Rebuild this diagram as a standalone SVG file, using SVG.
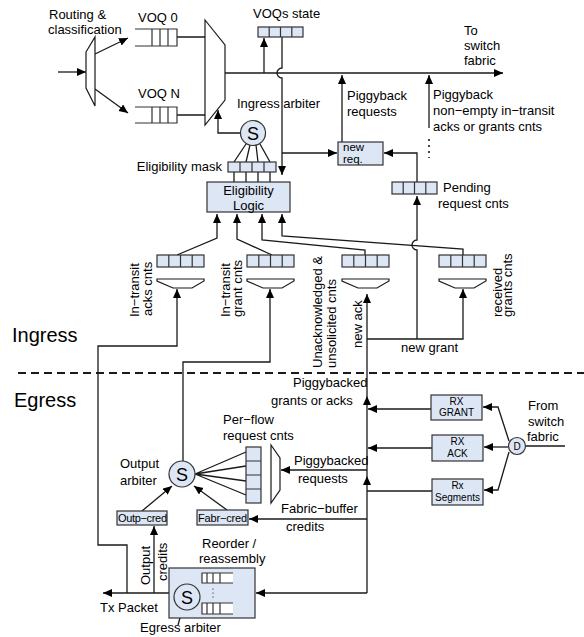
<svg xmlns="http://www.w3.org/2000/svg" width="584" height="637" viewBox="0 0 584 637">
<style>
text{font-family:"Liberation Sans",Arial,sans-serif;font-size:13px;fill:#000}
.ln{fill:none;stroke:#1a1a1a;stroke-width:1.3}
.bx{fill:#dce6f4;stroke:#333;stroke-width:1.2}
.wq{fill:#fff;stroke:#1a1a1a;stroke-width:1.2}
.cl{fill:none;stroke:#333;stroke-width:1.2}
.sm{font-size:10px}
.cr{font-size:11px}
.nr{font-size:11.5px}
.big{font-size:20px}
.s{font-size:18px}
.mid{text-anchor:middle}
</style>
<defs>
<marker id="a" markerUnits="userSpaceOnUse" markerWidth="10" markerHeight="10" refX="9" refY="4" orient="auto"><path d="M0,0L9,4L0,8z" fill="#000"/></marker>
</defs>

<g id="connectors" class="ln">
<path d="M58,72H86" marker-end="url(#a)"/>
<path d="M95,54L128,38" marker-end="url(#a)"/>
<path d="M95,89L128,113" marker-end="url(#a)"/>
<path d="M177,37H205M177,115H205"/>
<path d="M225,73H503" marker-end="url(#a)"/>
<path d="M264,73V38" marker-end="url(#a)"/>
<path d="M282,37V68a5,5 0 0 0 0,10V175" marker-end="url(#a)"/>
<path d="M282,153H337" marker-end="url(#a)"/>
<path d="M240,133H218V110" marker-end="url(#a)"/>
<path d="M246,144L234,162M250,145L246,162M256,145L258,162M260,144L270,162"/>
<path d="M234,172V182M246,172V182M258,172V182M270,172V182"/>
<path d="M342,142V75" marker-end="url(#a)"/>
<path d="M429,128V75" marker-end="url(#a)"/>
<path d="M429,139V158" stroke-dasharray="2,4" stroke-width="1.6"/>
<path d="M417,182V153H384" marker-end="url(#a)"/>
<path d="M417,339V250a5,5 0 0 1 0,-10V196" marker-end="url(#a)"/>
<path d="M177,255L217,238V214" marker-end="url(#a)"/>
<path d="M272,255L237,239V214" marker-end="url(#a)"/>
<path d="M365,255V250L262,240V214" marker-end="url(#a)"/>
<path d="M463,255V249L282,236V214" marker-end="url(#a)"/>
<path d="M367,593V476" marker-end="url(#a)"/>
<path d="M367,476V396" marker-end="url(#a)"/>
<path d="M367,396V294" marker-end="url(#a)"/>
<path d="M367,339H463V289" marker-end="url(#a)"/>
<path d="M127,593V545H98V346H177V289" marker-end="url(#a)"/>
<path d="M183,461V362H270V289" marker-end="url(#a)"/>
<path d="M431,409H368" marker-end="url(#a)"/>
<path d="M432,448H368" marker-end="url(#a)"/>
<path d="M432,491H367"/>
<path d="M509,441L498,407H483" marker-end="url(#a)"/>
<path d="M508,447H484" marker-end="url(#a)"/>
<path d="M509,452L498,490H484" marker-end="url(#a)"/>
<path d="M526,446H565"/>
<path d="M367,470H281" marker-end="url(#a)"/>
<path d="M367,519H249" marker-end="url(#a)"/>
<path d="M367,593H256" marker-end="url(#a)"/>
<path d="M169,593H103" marker-end="url(#a)"/>
<path d="M154,593V526" marker-end="url(#a)"/>
<path d="M227,510L194,486" marker-end="url(#a)"/>
<path d="M142,511L172,486" marker-end="url(#a)"/>
<path d="M195,474L246,452M195,474L246,466M195,474L246,481M195,474L246,495"/>
<path d="M183,607L178,625"/>
<path d="M18,373H584" stroke-dasharray="8,5" stroke-width="2"/>
</g>

<g id="demux"><polygon class="wq" points="86,52 95,37 95,106 86,88"/></g>
<g id="voq0">
<rect x="135" y="29" width="42" height="17" fill="#fff"/>
<path class="cl" d="M135,29H177V46H135M152,29V46M160,29V46M168,29V46"/>
</g>
<g id="voqn">
<rect x="135" y="107" width="42" height="16" fill="#fff"/>
<path class="cl" d="M135,107H177V123H135M152,107V123M160,107V123M168,107V123"/>
</g>
<g id="mux"><polygon class="wq" points="205,20 225,45 225,100 205,125"/></g>
<g id="voqs-state">
<rect class="bx" x="258" y="27" width="45" height="10"/>
<path class="cl" d="M269.2,27V37M280.5,27V37M291.8,27V37"/>
</g>
<g id="ingress-arbiter">
<circle class="bx" cx="253" cy="133" r="12.5"/>
<text class="s mid" x="253" y="139.5">S</text>
</g>
<g id="elig-mask">
<rect class="bx" x="228" y="162" width="48" height="10"/>
<path class="cl" d="M240,162V172M252,162V172M264,162V172"/>
</g>
<g id="elig-logic">
<rect class="bx" x="207" y="182" width="83" height="30"/>
<text class="mid" x="248.5" y="195">Eligibility</text>
<text class="mid" x="248.5" y="209.5">Logic</text>
</g>
<g id="new-req">
<rect class="bx" x="338" y="142" width="45" height="23"/>
<text class="nr" x="343" y="151">new</text>
<text class="nr" x="343" y="162.5">req.</text>
</g>
<g id="pending">
<rect class="bx" x="392" y="182" width="45" height="12"/>
<path class="cl" d="M403.2,182V194M414.5,182V194M425.8,182V194"/>
</g>
<g id="q-acks">
<rect class="bx" x="157" y="255" width="47" height="12"/>
<path class="cl" d="M168.8,255V267M180.5,255V267M192.2,255V267"/>
<polygon class="wq" points="157,279 204,279 204,281 192,288 173,288 157,281"/>
</g>
<g id="q-grant">
<rect class="bx" x="247" y="255" width="47" height="12"/>
<path class="cl" d="M258.8,255V267M270.5,255V267M282.2,255V267"/>
<polygon class="wq" points="247,279 294,279 294,281 282,288 263,288 247,281"/>
</g>
<g id="q-unack">
<rect class="bx" x="342" y="255" width="47" height="12"/>
<path class="cl" d="M353.8,255V267M365.5,255V267M377.2,255V267"/>
<polygon class="wq" points="342,279 389,279 389,281 377,288 358,288 342,281"/>
</g>
<g id="q-received">
<rect class="bx" x="439" y="255" width="47" height="12"/>
<path class="cl" d="M450.8,255V267M462.5,255V267M474.2,255V267"/>
<polygon class="wq" points="439,279 486,279 486,281 474,288 455,288 439,281"/>
</g>
<g id="output-arbiter">
<circle class="bx" cx="182" cy="474" r="13"/>
<text class="s mid" x="182" y="480.5">S</text>
</g>
<g id="per-flow">
<rect class="bx" x="246" y="447" width="15" height="56"/>
<path class="cl" d="M246,461H261M246,475H261M246,489H261"/>
</g>
<g id="mux2"><polygon class="wq" points="271,445 280,458 280,490 271,503"/></g>
<g id="outp-cred">
<rect class="bx" x="117" y="511" width="50" height="14"/>
<text class="cr" x="118" y="522" textLength="49">Outp−cred</text>
</g>
<g id="fabr-cred">
<rect class="bx" x="197" y="510" width="51" height="15"/>
<text class="cr" x="198" y="521.5" textLength="49">Fabr−cred</text>
</g>
<g id="reorder">
<rect class="bx" x="169" y="568" width="86" height="50"/>
<circle class="bx" cx="187" cy="597" r="13"/>
<text class="s mid" x="187" y="603.5">S</text>
<rect x="202" y="573" width="31" height="10" fill="#fff"/>
<path class="cl" d="M233,573H202V583H233M207,573V583M213,573V583M220,573V583"/>
<rect x="202" y="603" width="31" height="11" fill="#fff"/>
<path class="cl" d="M233,603H202V614H233M207,603V614M213,603V614M220,603V614"/>
<circle cx="213" cy="589" r="0.6"/><circle cx="213" cy="593" r="0.6"/><circle cx="213" cy="597" r="0.6"/>
</g>
<g id="rx-grant">
<rect class="bx" x="431" y="395" width="51" height="25"/>
<text class="sm mid" x="456.5" y="405">RX</text>
<text class="sm mid" x="456.5" y="416">GRANT</text>
</g>
<g id="rx-ack">
<rect class="bx" x="432" y="435" width="51" height="26"/>
<text class="sm mid" x="457.5" y="445">RX</text>
<text class="sm mid" x="457.5" y="457">ACK</text>
</g>
<g id="rx-seg">
<rect class="bx" x="432" y="479" width="51" height="26"/>
<text class="sm mid" x="457.5" y="489">Rx</text>
<text class="sm mid" x="457.5" y="501">Segments</text>
</g>
<g id="d">
<circle class="bx" cx="517" cy="446" r="8.5"/>
<text class="sm mid" x="517" y="449.5">D</text>
</g>

<g id="labels">
<text x="49" y="19">Routing &amp;</text>
<text x="48" y="34">classification</text>
<text x="138" y="22">VOQ 0</text>
<text x="138" y="98">VOQ N</text>
<text x="253" y="18">VOQs state</text>
<text x="464" y="35">To</text>
<text x="464" y="50">switch</text>
<text x="464" y="65">fabric</text>
<text x="237" y="108">Ingress arbiter</text>
<text x="347" y="100">Piggyback</text>
<text x="347" y="116">requests</text>
<text x="433" y="99">Piggyback</text>
<text x="433" y="115">non−empty in−transit</text>
<text x="433" y="131">acks or grants cnts</text>
<text x="222" y="171" text-anchor="end">Eligibility mask</text>
<text x="443" y="192">Pending</text>
<text x="438" y="208">request cnts</text>
<text transform="translate(139,317) rotate(-90)">In−transit</text>
<text transform="translate(152,316) rotate(-90)">acks cnts</text>
<text transform="translate(230,317) rotate(-90)">In−transit</text>
<text transform="translate(242,317) rotate(-90)">grant cnts</text>
<text transform="translate(322,368) rotate(-90)">Unacknowledged &amp;</text>
<text transform="translate(336,368) rotate(-90)">unsolicited cnts</text>
<text transform="translate(362,348) rotate(-90)">new ack</text>
<text transform="translate(502,317) rotate(-90)">received</text>
<text transform="translate(512,317) rotate(-90)">grants cnts</text>
<text class="big" x="12" y="342">Ingress</text>
<text class="big" x="14" y="407">Egress</text>
<text x="401" y="352">new grant</text>
<text x="293" y="387">Piggybacked</text>
<text x="271" y="405">grants or acks</text>
<text x="223" y="424">Per−flow</text>
<text x="223" y="439.5">request cnts</text>
<text x="120" y="468">Output</text>
<text x="120" y="485">arbiter</text>
<text x="294" y="465">Piggybacked</text>
<text x="298" y="483">requests</text>
<text x="281" y="513">Fabric−buffer</text>
<text x="286" y="531">credits</text>
<text x="202" y="548">Reorder /</text>
<text x="199" y="563">reassembly</text>
<text x="100" y="612">Tx Packet</text>
<text x="140" y="632">Egress arbiter</text>
<text transform="translate(150,585) rotate(-90)">Output</text>
<text transform="translate(167,581) rotate(-90)">credits</text>
<text x="528" y="410">From</text>
<text x="528" y="426">switch</text>
<text x="527" y="441">fabric</text>
</g>
</svg>
